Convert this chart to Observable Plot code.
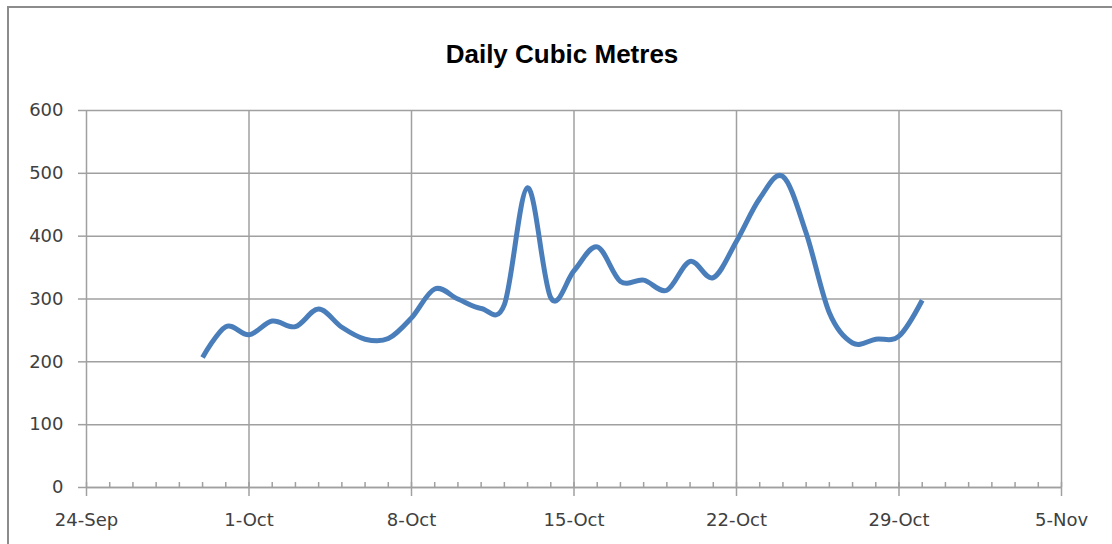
<!DOCTYPE html>
<html><head><meta charset="utf-8">
<script src="https://cdn.jsdelivr.net/npm/d3@7"></script>
<script src="https://cdn.jsdelivr.net/npm/@observablehq/plot@0.6"></script>
<style>
html,body{margin:0;padding:0;background:#fff;overflow:hidden}
#wrap{position:relative;width:1112px;height:544px;overflow:hidden}
#wrap svg{position:absolute;left:0;top:0}
.bline{position:absolute;background:#8c8c8c;pointer-events:none}
</style></head><body>
<div id="wrap"></div>
<script>
const title = "Daily Cubic Metres";
const dates = [
  "2013-09-29","2013-09-30","2013-10-01","2013-10-02","2013-10-03","2013-10-04","2013-10-05",
  "2013-10-06","2013-10-07","2013-10-08","2013-10-09","2013-10-10","2013-10-11","2013-10-12",
  "2013-10-13","2013-10-14","2013-10-15","2013-10-16","2013-10-17","2013-10-18","2013-10-19",
  "2013-10-20","2013-10-21","2013-10-22","2013-10-23","2013-10-24","2013-10-25","2013-10-26",
  "2013-10-27","2013-10-28","2013-10-29","2013-10-30"
];
const values = [
  207, 256, 243, 265, 256, 284, 255,
  236, 237, 270, 316, 300, 285, 291,
  477, 302, 345, 383, 328, 330, 314,
  360, 334, 392, 460, 495, 405, 278,
  230, 236, 241, 298
];
const yTicks = [0, 100, 200, 300, 400, 500, 600];
const xTickDates = ["2013-09-24","2013-10-01","2013-10-08","2013-10-15","2013-10-22","2013-10-29","2013-11-05"];

const parse = d3.utcParse("%Y-%m-%d");
const data = dates.map((d, i) => ({date: parse(d), value: values[i]}));
const xTicks = xTickDates.map(parse);
const minorDays = d3.utcDay.range(xTicks[0], d3.utcDay.offset(xTicks[xTicks.length - 1], 1));
const gridColor = "#a0a0a0";

const chart = Plot.plot({
  width: 1112, height: 544,
  marginLeft: 86, marginRight: 51, marginTop: 110, marginBottom: 57,
  style: {fontFamily: "DejaVu Sans", fontSize: "18px", color: "#404040", background: "transparent"},
  x: {type: "utc", domain: [xTicks[0], xTicks[xTicks.length - 1]]},
  y: {domain: [0, 600]},
  marks: [
    Plot.gridY(yTicks, {stroke: gridColor, strokeOpacity: 1, strokeWidth: 1.5}),
    Plot.gridX(xTicks, {stroke: gridColor, strokeOpacity: 1, strokeWidth: 1.5}),
    Plot.ruleX(minorDays, {x: d => d, insetTop: 372, stroke: gridColor, strokeWidth: 1.5}),
    Plot.ruleY([0], {stroke: gridColor, strokeWidth: 1.5}),
    Plot.axisY(yTicks, {tickSize: 8, tickPadding: 15, label: null, stroke: gridColor, strokeWidth: 1.5, fill: "#404040", fontSize: 18}),
    Plot.axisX(xTicks, {tickSize: 9, tickPadding: 17, label: null, tickFormat: d3.utcFormat("%-d-%b"), stroke: gridColor, strokeWidth: 1.5, fill: "#404040", fontSize: 18}),
    Plot.line(data, {x: "date", y: "value", curve: "cardinal", tension: 0, stroke: "#4a7ebb", strokeWidth: 5, strokeLinecap: "butt"}),
    Plot.text([title], {frameAnchor: "top", lineAnchor: "middle", dy: -56, dx: -12, fontWeight: "bold", fontSize: 26, fontFamily: "Liberation Sans", fill: "#000"})
  ]
});
const wrapEl = document.getElementById("wrap");
wrapEl.appendChild(chart);
const leftLine = document.createElement("div");
leftLine.className = "bline";
Object.assign(leftLine.style, {left: "7px", top: "6px", width: "2px", height: "538px"});
const topLine = document.createElement("div");
topLine.className = "bline";
Object.assign(topLine.style, {left: "7px", top: "6px", width: "1105px", height: "2px"});
wrapEl.appendChild(leftLine);
wrapEl.appendChild(topLine);
</script>
</body></html>
